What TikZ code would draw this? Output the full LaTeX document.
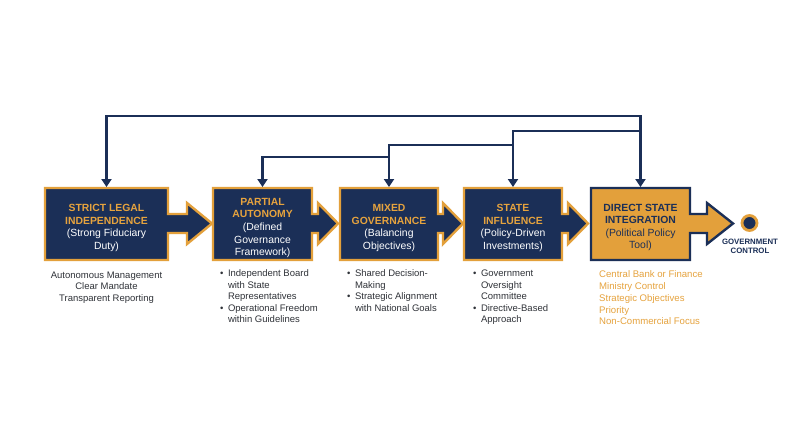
\documentclass[tikz,border=0pt]{standalone}
\usepackage{fontspec}
\setmainfont{Liberation Sans}
\usetikzlibrary{arrows.meta}
\definecolor{navy}{HTML}{1B2F57}
\definecolor{gold}{HTML}{E3A03B}
\definecolor{goldtext}{HTML}{E6A33E}
\definecolor{bodytext}{HTML}{2F3238}
\newcommand{\arrowbox}[5]{%
  \draw[#1] (#2,188) -- (#3,188) -- (#3,214) -- (#4,214) -- (#4,203) -- (#5,223.5)
    -- (#4,244) -- (#4,233) -- (#3,233) -- (#3,260) -- (#2,260) -- cycle;}
\tikzset{
  navybox/.style={fill=navy,draw=gold,line width=2.4pt,line join=miter},
  goldbox/.style={fill=gold,draw=navy,line width=2.4pt,line join=miter},
  boxtext/.style={align=center,inner sep=0pt,font=\fontsize{10.4}{12.6}\selectfont},
  below/.style={inner sep=0pt,anchor=north west,text=bodytext,font=\fontsize{9.5}{11.5}\selectfont},
  conn/.style={draw=navy,line width=2.6pt,line join=miter,-{Triangle[width=10pt,length=8pt]}},
}
\begin{document}
\begin{tikzpicture}[x=1pt,y=-1pt]
\useasboundingbox (0,0) rectangle (800,447);
\fill[white] (0,0) rectangle (800,447);
% boxes with arrows
\arrowbox{navybox}{45}{168}{187}{212}
\arrowbox{navybox}{213}{312}{318}{338}
\arrowbox{navybox}{340}{438}{443}{463}
\arrowbox{navybox}{464}{562}{568}{588}
\arrowbox{goldbox}{591}{690}{707}{733}
% box tops
\coordinate (t1) at (106.5,187);
\coordinate (t2) at (262.5,187);
\coordinate (t3) at (389,187);
\coordinate (t4) at (513,187);
\coordinate (t5) at (640.5,187);
\coordinate (l1) at (0,116);
\coordinate (l2) at (0,131);
\coordinate (l3) at (0,145);
\coordinate (l4) at (0,157);
% connectors
\draw[conn,{Triangle[width=10pt,length=8pt]}-{Triangle[width=10pt,length=8pt]}] (t1) |- (t5|-l1) -- (t5);
\draw[conn] (t5|-l2) -| (t4);
\draw[conn] (t4|-l3) -| (t3);
\draw[conn] (t3|-l4) -| (t2);
% box texts
\node[boxtext] (b1) at (106.5,228) {\textcolor{goldtext}{\textbf{STRICT LEGAL}}\\\textcolor{goldtext}{\textbf{INDEPENDENCE}}\\\textcolor{white}{(Strong Fiduciary}\\\textcolor{white}{Duty)}};
\node[boxtext] (b2) at (262.5,228) {\textcolor{goldtext}{\textbf{PARTIAL}}\\\textcolor{goldtext}{\textbf{AUTONOMY}}\\\textcolor{white}{(Defined}\\\textcolor{white}{Governance}\\\textcolor{white}{Framework)}};
\node[boxtext] (b3) at (389,228) {\textcolor{goldtext}{\textbf{MIXED}}\\\textcolor{goldtext}{\textbf{GOVERNANCE}}\\\textcolor{white}{(Balancing}\\\textcolor{white}{Objectives)}};
\node[boxtext] (b4) at (513,228) {\textcolor{goldtext}{\textbf{STATE}}\\\textcolor{goldtext}{\textbf{INFLUENCE}}\\\textcolor{white}{(Policy-Driven}\\\textcolor{white}{Investments)}};
\node[boxtext,text=navy] (b5) at (640.5,227.5) {\textbf{DIRECT STATE}\\\textbf{INTEGRATION}\\(Political Policy\\Tool)};
% end marker
\node[circle,fill=navy,draw=gold,line width=2.8pt,minimum size=15pt,inner sep=0pt] (gc) at (749.5,223) {};
\node[align=center,inner sep=0pt,text=navy,font=\fontsize{7.8}{8.8}\selectfont\bfseries] (gct) at (750,246.5) {GOVERNMENT\\CONTROL};
% texts below
\node[below,anchor=north,align=center] (d1) at (106.5,271.5) {Autonomous Management\\Clear Mandate\\Transparent Reporting};
\node[below] (d2) at (220,268.5) {\begin{tabular}{@{}l@{\hspace{4.5pt}}l@{}}\textbullet & Independent Board\\ & with State\\ & Representatives\\ \textbullet & Operational Freedom\\ & within Guidelines\end{tabular}};
\node[below] (d3) at (347,268.5) {\begin{tabular}{@{}l@{\hspace{4.5pt}}l@{}}\textbullet & Shared Decision-\\ & Making\\ \textbullet & Strategic Alignment\\ & with National Goals\end{tabular}};
\node[below] (d4) at (473,268.5) {\begin{tabular}{@{}l@{\hspace{4.5pt}}l@{}}\textbullet & Government\\ & Oversight\\ & Committee\\ \textbullet & Directive-Based\\ & Approach\end{tabular}};
\node[below,text=goldtext,align=left,font=\fontsize{9.6}{11.8}\selectfont] (d5) at (599,270.5) {Central Bank or Finance\\Ministry Control\\Strategic Objectives\\Priority\\Non-Commercial Focus};
\end{tikzpicture}
\end{document}
